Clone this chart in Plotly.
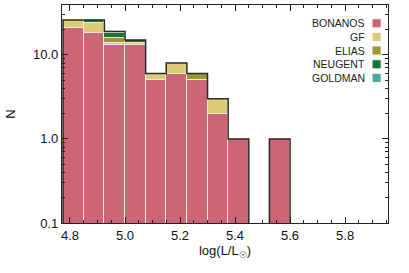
import plotly.graph_objects as go

# ---- data ----
bin_start = 4.775
bin_width = 0.075
n_bins = 11
bonanos = [21, 18, 13, 13, 5, 6, 5, 2, 1, 0, 1]
gf      = [5, 6, 1, 1, 1, 2, 0, 1, 0, 0, 0]
elias   = [0, 0, 2, 0, 0, 0, 1, 0, 0, 0, 0]
neugent = [0, 2, 2, 1, 0, 0, 0, 0, 0, 0, 0]
goldman = [0, 0, 1, 0, 0, 0, 0, 0, 0, 0, 0]
series_names = ["BONANOS", "GF", "ELIAS", "NEUGENT", "GOLDMAN"]
series_vals = [bonanos, gf, elias, neugent, goldman]
colors = ["#CC6677", "#DDCC77", "#999933", "#117733", "#44AA99"]
y_tickvals = [0.1, 1, 10]
y_ticktext = ["0.1", "1.0", "10.0"]
x_tickvals = [4.8, 5.0, 5.2, 5.4, 5.6, 5.8]
x_ticktext = ["4.8", "5.0", "5.2", "5.4", "5.6", "5.8"]

edges = [bin_start + i * bin_width for i in range(n_bins + 1)]
centers = [bin_start + (i + 0.5) * bin_width for i in range(n_bins)]
totals = [sum(s[i] for s in series_vals) for i in range(n_bins)]

FONT = "Liberation Sans, Arial, sans-serif"
fig = go.Figure()
for name, vals, col in zip(series_names, series_vals, colors):
    fig.add_trace(go.Bar(
        x=centers, y=[v if v > 0 else None for v in vals], width=bin_width,
        name=name, marker=dict(color=col, line=dict(color="rgba(250,235,220,0.95)", width=1)),
        showlegend=False,
    ))

# step outline of totals
floor = 1e-3
sx = [edges[0]] + edges[:n_bins] + [edges[n_bins]]
sy = [floor] + [t if t > 0 else floor for t in totals] + [floor]
fig.add_trace(go.Scatter(x=sx, y=sy, mode="lines", line=dict(color="#2a2a2a", width=1.5, shape="hv"),
                         showlegend=False, hoverinfo="skip"))

# custom legend (text left, swatch right)
row_y = [0.916, 0.853, 0.791, 0.728, 0.666]
for name, col, yy in zip(series_names, colors, row_y):
    fig.add_annotation(xref="paper", yref="paper", x=0.937, y=yy, text=name, showarrow=False,
                       xanchor="right", yanchor="middle", font=dict(family=FONT, size=10.5, color="#222"))
    fig.add_shape(type="rect", xref="paper", yref="paper", x0=0.951, x1=0.979,
                  y0=yy - 0.021, y1=yy + 0.021, fillcolor=col, line=dict(color="white", width=1))

minor_y = [k * 10 ** d for d in (-1, 0, 1) for k in range(2, 10)]
fig.update_layout(
    width=409, height=273, margin=dict(l=62, r=21, t=5, b=50),
    plot_bgcolor="white", paper_bgcolor="white", barmode="stack", bargap=0,
    font=dict(family=FONT, size=13, color="#111"),
)
fig.update_xaxes(range=[4.771, 5.956], tickvals=x_tickvals, ticktext=x_ticktext, automargin=False,
                 ticks="inside", ticklen=6, tickcolor="#222", showline=True, linecolor="#222", linewidth=1.3,
                 mirror="allticks", showgrid=False, zeroline=False,
                 minor=dict(ticks="inside", ticklen=3, dtick=0.05, tick0=4.8, tickcolor="#222", showgrid=False),
                 title=dict(text="log(L/L<sub>☉</sub>)", font=dict(size=13), standoff=4))
fig.update_yaxes(type="log", range=[-1, 1.593], tickvals=y_tickvals, ticktext=y_ticktext, automargin=False,
                 ticks="inside", ticklen=6, tickcolor="#222", showline=True, linecolor="#222", linewidth=1.3,
                 mirror="allticks", showgrid=False, zeroline=False,
                 minor=dict(ticks="inside", ticklen=3, tickvals=minor_y, tickcolor="#222", showgrid=False),
                 title=dict(text="N", font=dict(size=13), standoff=14))
fig.write_html("out.html", config={"displayModeBar": False},
               post_script="document.body.style.margin='0';document.body.style.overflow='hidden';")
